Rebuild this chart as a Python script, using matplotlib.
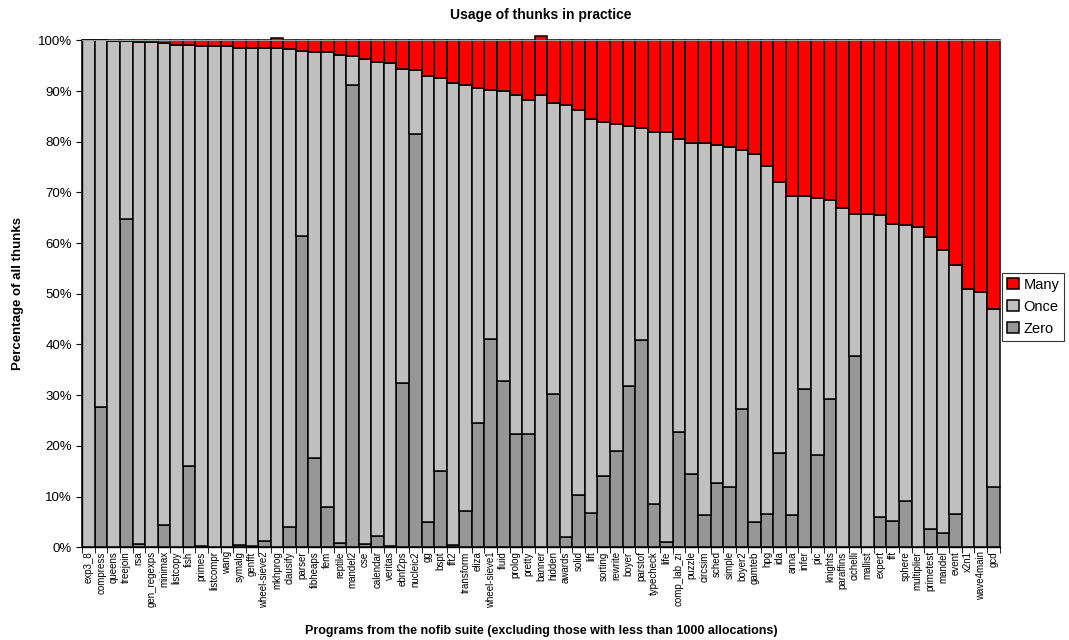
import matplotlib
matplotlib.use("Agg")
import matplotlib.pyplot as plt
import numpy as np
from matplotlib.ticker import FixedLocator, PercentFormatter

plt.rcParams['font.family'] = ['Liberation Sans', 'DejaVu Sans']

programs = ['exp3_8', 'compress', 'queens', 'treejoin', 'rsa', 'gen_regexps', 'minimax',
            'listcopy', 'fish', 'primes', 'listcompr', 'wang', 'symalg', 'genfft',
            'wheel-sieve2', 'mkhprog', 'clausify', 'parser', 'fibheaps', 'fem', 'reptile',
            'mandel2', 'cse', 'calendar', 'veritas', 'ebnf2ps', 'nucleic2', 'gg', 'bspt',
            'fft2', 'transform', 'eliza', 'wheel-sieve1', 'fluid', 'prolog', 'pretty',
            'banner', 'hidden', 'awards', 'solid', 'lift', 'sorting', 'rewrite', 'boyer',
            'parstof', 'typecheck', 'life', 'comp_lab_zi', 'puzzle', 'circsim', 'sched',
            'simple', 'boyer2', 'gamteb', 'hpg', 'ida', 'anna', 'infer', 'pic', 'knights',
            'paraffins', 'cichelli', 'mallist', 'expert', 'fft', 'sphere', 'multiplier',
            'primetest', 'mandel', 'event', 'x2n1', 'wave4main', 'gcd']

zero = [0.0, 27.6, 0.0, 64.7, 0.7, 0.1, 4.4, 0.1, 16.0, 0.2, 0.1, 0.0, 0.5, 0.2,
        1.2, 0.0, 4.0, 61.3, 17.6, 8.0, 0.9, 91.2, 0.7, 2.3, 0.2, 32.4, 81.5, 4.9, 15.0,
        0.5, 7.1, 24.6, 41.1, 32.8, 22.3, 22.3, 0.0, 30.2, 2.1, 10.3, 6.8, 14.1, 19.0,
        31.8, 40.8, 8.5, 1.0, 22.8, 14.4, 6.3, 12.7, 11.9, 27.2, 5.0, 6.6, 18.6, 6.3,
        31.2, 18.1, 29.3, 0.0, 37.8, 0.0, 6.0, 5.2, 9.2, 0.0, 3.5, 2.8, 6.6, 0.0, 0.0, 11.8]

once = [100.0, 72.4, 99.9, 35.1, 98.9, 99.5, 95.1, 99.0, 83.1, 98.7, 98.8, 98.9, 98.0,
        98.2, 97.2, 98.4, 94.2, 36.5, 80.1, 89.6, 96.2, 5.8, 95.6, 93.5, 95.4, 62.0,
        12.6, 88.0, 77.6, 91.0, 84.0, 66.0, 49.1, 57.2, 67.0, 66.0, 89.3, 57.5, 85.1,
        75.9, 77.6, 69.8, 64.4, 51.3, 41.9, 73.5, 80.9, 57.8, 65.3, 73.4, 66.7, 67.1,
        51.1, 72.6, 68.7, 53.4, 63.0, 38.1, 50.8, 39.1, 67.0, 28.0, 65.8, 59.6, 58.6,
        54.4, 63.1, 57.6, 55.8, 49.0, 50.9, 50.4, 35.2]

many = [0.0, 0.0, 0.1, 0.2, 0.4, 0.4, 0.5, 0.9, 0.9, 1.1, 1.1, 1.1, 1.5, 1.6, 1.6,
        2.0, 1.8, 2.2, 2.3, 2.4, 2.9, 3.0, 3.7, 4.2, 4.4, 5.6, 5.9, 7.1, 7.4, 8.5, 8.9,
        9.4, 9.8, 10.0, 10.7, 11.7, 11.5, 12.3, 12.8, 13.8, 15.6, 16.1, 16.6, 16.9,
        17.3, 18.0, 18.1, 19.4, 20.3, 20.3, 20.6, 21.0, 21.7, 22.4, 24.7, 28.0, 30.7,
        30.7, 31.1, 31.6, 33.0, 34.2, 34.2, 34.4, 36.2, 36.4, 36.9, 38.9, 41.4, 44.4,
        49.1, 49.6, 53.0]

x = np.arange(len(programs))
zero = np.array(zero)
once = np.array(once)
many = np.array(many)

fig = plt.figure(figsize=(10.69, 6.4), dpi=100)
ax = fig.add_axes([0.077, 0.145, 0.858, 0.792])

bar_kw = dict(width=1.0, edgecolor='black', linewidth=1.1, clip_on=False)
ax.bar(x, zero, color='#969696', label='Zero', **bar_kw)
ax.bar(x, once, bottom=zero, color='#c0c0c0', label='Once', **bar_kw)
ax.bar(x, many, bottom=zero + once, color='#ff0000', label='Many', **bar_kw)

ax.set_xlim(-0.5, len(programs) - 0.5)
ax.set_ylim(0, 100)
ax.set_yticks(np.arange(0, 101, 10))
ax.yaxis.set_major_formatter(PercentFormatter(decimals=0))
ax.tick_params(axis='y', labelsize=9.5, length=4, direction='out')

ax.set_xticks(x)
ax.set_xticklabels(programs, rotation=90, fontsize=7)
ax.tick_params(axis='x', length=0, pad=3)
ax.xaxis.set_minor_locator(FixedLocator(np.arange(-0.5, len(programs), 1)))
ax.tick_params(axis='x', which='minor', length=4, direction='out')

ax.spines['right'].set_visible(False)
ax.spines['top'].set_color('#a0a0a0')
ax.spines['left'].set_linewidth(1.0)
ax.spines['bottom'].set_linewidth(1.0)

ax.set_title('Usage of thunks in practice', fontsize=10, fontweight='bold', pad=15)
ax.set_ylabel('Percentage of all thunks', fontsize=9.5, fontweight='bold', labelpad=10)
ax.set_xlabel('Programs from the nofib suite (excluding those with less than 1000 allocations)',
              fontsize=9, fontweight='bold', labelpad=12)

handles, labels = ax.get_legend_handles_labels()
leg = ax.legend(handles[::-1], labels[::-1], loc='center left', bbox_to_anchor=(1.003, 0.474),
                fontsize=10.5, frameon=True, fancybox=False, handlelength=0.8, handleheight=0.8,
                handletextpad=0.3, borderpad=0.35, labelspacing=0.55, borderaxespad=0)
leg.get_frame().set_edgecolor('black')
leg.get_frame().set_linewidth(0.8)

fig.savefig('out.png', dpi=100)
